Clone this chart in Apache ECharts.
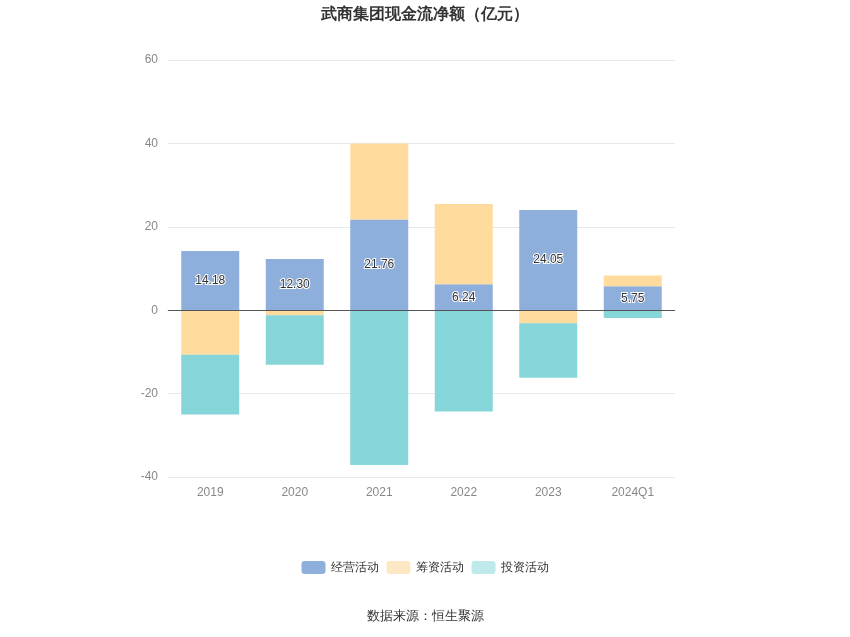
<!DOCTYPE html><html><head><meta charset="utf-8">
<script src="https://cdn.jsdelivr.net/npm/echarts@6/dist/echarts.min.js"></script>
<style>html,body{margin:0;padding:0}#c{width:850px;height:637px}</style></head><body><div id="c"></div>
<script>
const categories=['2019','2020','2021','2022','2023','2024Q1'];
const operating=[14.18,12.30,21.76,6.24,24.05,5.75];
const financing=[-10.7,-1.2,18.24,19.2,-3.1,2.6];
const investing=[-14.3,-11.9,-37.1,-24.3,-13.1,-1.9];
const chart=echarts.init(document.getElementById('c'));
const bw=58;
chart.setOption({
 animation:false,
 title:{text:'武商集团现金流净额（亿元）',left:'center',top:2,textStyle:{fontSize:16,fontWeight:'bold',color:'#333'}},
 graphic:[{type:'text',left:'center',top:610,style:{text:'数据来源：恒生聚源',fontSize:13,fill:'#333'}}],
 legend:{bottom:58,itemWidth:24,itemHeight:13,textStyle:{fontSize:12,color:'#333'},
   data:[{name:'经营活动',itemStyle:{color:'#8eaedb'}},{name:'筹资活动',itemStyle:{color:'#fde8c4'}},{name:'投资活动',itemStyle:{color:'#bfe9ea'}}]},
 grid:{left:168,right:175,top:60,bottom:160},
 xAxis:{type:'category',data:categories,axisTick:{show:false},axisLine:{lineStyle:{color:'#ccc'}},axisLabel:{color:'#888',fontSize:12,margin:10}},
 yAxis:{type:'value',min:-40,max:60,interval:20,axisLabel:{color:'#888',fontSize:12,margin:10},splitLine:{lineStyle:{color:'#e6e9f0'}}},
 series:[
  {name:'经营活动',type:'bar',stack:'a',barWidth:bw,data:operating,itemStyle:{color:'#8eaedb'},
   label:{show:true,position:'inside',formatter:p=>p.value.toFixed(2),color:'#333',fontSize:12,textBorderColor:'#fff',textBorderWidth:2}},
  {name:'筹资活动',type:'bar',stack:'a',barWidth:bw,data:financing,itemStyle:{color:'#ffdb9e'}},
  {name:'投资活动',type:'bar',stack:'a',barWidth:bw,data:investing,itemStyle:{color:'#86d5d9'},
   markLine:{symbol:'none',silent:true,label:{show:false},lineStyle:{color:'#555',type:'solid',width:1},data:[{yAxis:0}]}}
 ]
});
</script></body></html>
